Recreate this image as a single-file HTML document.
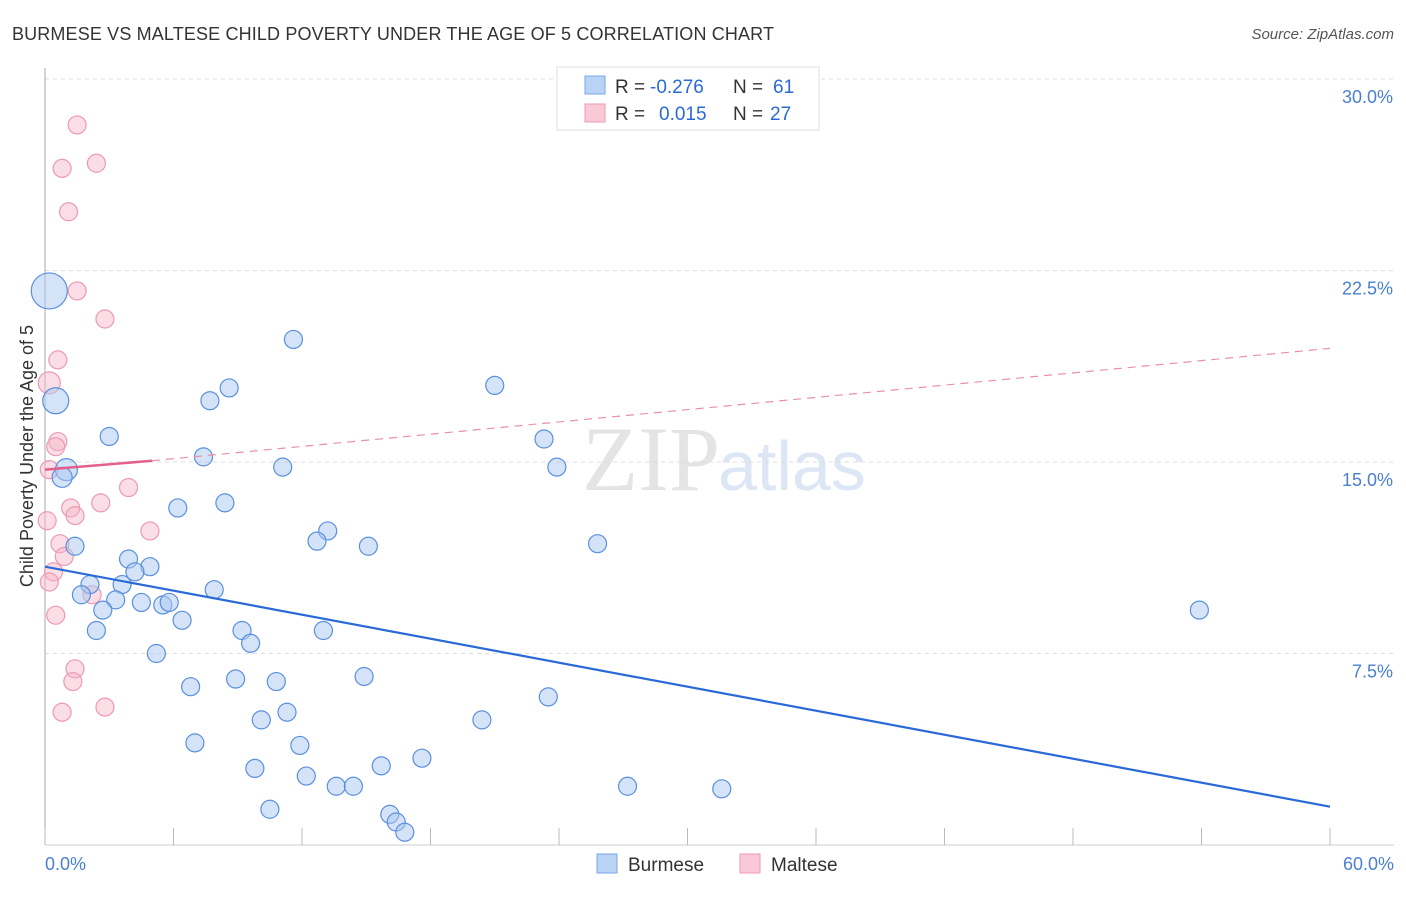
<!DOCTYPE html>
<html><head><meta charset="utf-8"><style>
body{margin:0;background:#fff;font-family:"Liberation Sans",sans-serif;}
</style></head><body>
<svg width="1406" height="892" xmlns="http://www.w3.org/2000/svg" style="font-family:'Liberation Sans',sans-serif">
<text x="12" y="40" font-size="18" fill="#333" textLength="762">BURMESE VS MALTESE CHILD POVERTY UNDER THE AGE OF 5 CORRELATION CHART</text>
<text x="1394" y="39" font-size="15" fill="#555" font-style="italic" text-anchor="end">Source: ZipAtlas.com</text>
<text x="720" y="490" font-size="92" fill="#e4e4e4" text-anchor="end" font-family="Liberation Serif">ZIP</text>
<text x="718" y="490" font-size="70" fill="#dce6f5">atlas</text>
<g id="grid"></g>
<line x1="45" y1="68" x2="45" y2="845" stroke="#aaa"/>
<line x1="45" y1="845" x2="1394" y2="845" stroke="#ccc"/>
<g id="xt"></g>
<text x="33" y="456" font-size="18" fill="#333" text-anchor="middle" transform="rotate(-90 33 456)">Child Poverty Under the Age of 5</text>
<text x="45" y="870" font-size="18" fill="#4a80d0">0.0%</text>
<text x="1394" y="870" font-size="18" fill="#4a80d0" text-anchor="end">60.0%</text>
<g id="pts"></g>
<g id="lines"></g>
<g font-size="19">
<rect x="557" y="67" width="262" height="63" fill="#fff" stroke="#ddd"/>
<rect x="585" y="76" width="20" height="18" fill="#b9d3f5" stroke="#7aa6e6"/>
<rect x="585" y="104" width="20" height="18" fill="#f9c9d7" stroke="#ee9ab3"/>
<text x="615" y="93" fill="#333">R =</text>
<text x="650" y="93" fill="#2a6ad6">-0.276</text>
<text x="733" y="93" fill="#333">N =</text>
<text x="773" y="93" fill="#2a6ad6">61</text>
<text x="615" y="120" fill="#333">R =</text>
<text x="659" y="120" fill="#2a6ad6">0.015</text>
<text x="733" y="120" fill="#333">N =</text>
<text x="770" y="120" fill="#2a6ad6">27</text>
</g>
<g>
<rect x="597" y="854" width="20" height="19" fill="#b9d3f5" stroke="#7aa6e6"/>
<text x="628" y="871" font-size="19" fill="#333">Burmese</text>
<rect x="740" y="854" width="20" height="19" fill="#f9c9d7" stroke="#ee9ab3"/>
<text x="771" y="871" font-size="19" fill="#333">Maltese</text>
</g>
</svg>
<script>
const yTicks=[7.5,15,22.5,30];
const yTickLabels=["7.5%","15.0%","22.5%","30.0%"];
const xTicks=[0,6,12,18,24,30,36,42,48,54,60];
const burmeseX=[0.2,0.5,1.0,0.8,3.0,11.6,21.0,8.6,7.7,7.4,11.1,23.3,23.9,6.2,8.4,13.2,12.7,15.1,25.8,1.4,3.9,4.9,4.2,3.6,2.1,1.7,3.3,2.7,4.5,5.5,5.8,7.9,6.4,2.4,9.2,13.0,9.6,5.2,53.9,6.8,8.9,10.8,14.9,23.5,11.3,10.1,20.4,7.0,11.9,17.6,9.8,15.7,12.2,13.6,14.4,27.2,31.6,10.5,16.1,16.4,16.8];
const burmeseY=[21.7,17.4,14.7,14.4,16.0,19.8,18.0,17.9,17.4,15.2,14.8,15.9,14.8,13.2,13.4,12.3,11.9,11.7,11.8,11.7,11.2,10.9,10.7,10.2,10.2,9.8,9.6,9.2,9.5,9.4,9.5,10.0,8.8,8.4,8.4,8.4,7.9,7.5,9.2,6.2,6.5,6.4,6.6,5.8,5.2,4.9,4.9,4.0,3.9,3.4,3.0,3.1,2.7,2.3,2.3,2.3,2.2,1.4,1.2,0.9,0.5];
const burmeseR=[18,13,11,10,9,9,9,9,9,9,9,9,9,9,9,9,9,9,9,9,9,9,9,9,9,9,9,9,9,9,9,9,9,9,9,9,9,9,9,9,9,9,9,9,9,9,9,9,9,9,9,9,9,9,9,9,9,9,9,9,9];
const malteseX=[1.5,2.4,0.8,1.1,1.5,2.8,0.6,0.2,0.6,0.5,0.2,3.9,1.2,2.6,1.4,0.1,4.9,0.7,0.9,0.4,0.2,2.2,0.5,1.4,1.3,2.8,0.8];
const malteseY=[28.2,26.7,26.5,24.8,21.7,20.6,19.0,18.1,15.8,15.6,14.7,14.0,13.2,13.4,12.9,12.7,12.3,11.8,11.3,10.7,10.3,9.8,9.0,6.9,6.4,5.4,5.2];
const malteseR=[9,9,9,9,9,9,9,11,9,9,9,9,9,9,9,9,9,9,9,9,9,9,9,9,9,9,9];
const burmeseTrend=[[0,10.9],[60,1.5]];
const malteseTrend=[[0,14.7],[5,15.05],[60,19.45]];
const NS="http://www.w3.org/2000/svg";
const X=v=>45+v*(1285/60), Y=v=>845-v*(191.5/7.5);
function mk(t,a,p){const e=document.createElementNS(NS,t);for(const k in a)e.setAttribute(k,a[k]);document.getElementById(p).appendChild(e);return e;}
yTicks.forEach((t,i)=>{
 const l=mk('line',{x1:45,x2:1394,y1:Y(t),y2:Y(t),stroke:'#ddd','stroke-dasharray':'4,4'},'grid');
 
 
 const tx=mk('text',{x:1393,y:Y(t)+24,'font-size':18,fill:'#4a80d0','text-anchor':'end'},'grid');
 tx.textContent=yTickLabels[i];
 
 
});
xTicks.forEach(t=>{
 const l=mk('line',{x1:X(t),x2:X(t),y1:828,y2:845,stroke:'#bbb'},'xt');
 
 
});
malteseX.forEach((v,i)=>{
 const c=mk('circle',{cx:X(v),cy:Y(malteseY[i]),r:malteseR[i],fill:'rgba(246,180,200,0.45)',stroke:'#eb9ab4','stroke-width':1.2},'pts');
 
 
});
burmeseX.forEach((v,i)=>{
 const c=mk('circle',{cx:X(v),cy:Y(burmeseY[i]),r:burmeseR[i],fill:'rgba(170,200,240,0.5)',stroke:'#5a90dc','stroke-width':1.2},'pts');
 
 
});
let b=mk('line',{x1:X(burmeseTrend[0][0]),y1:Y(burmeseTrend[0][1]),x2:X(burmeseTrend[1][0]),y2:Y(burmeseTrend[1][1]),stroke:'#2a6ad6','stroke-width':2.2},'lines');


let m1=mk('line',{x1:X(malteseTrend[0][0]),y1:Y(malteseTrend[0][1]),x2:X(malteseTrend[1][0]),y2:Y(malteseTrend[1][1]),stroke:'#e4608a','stroke-width':2.5},'lines');


let m2=mk('line',{x1:X(malteseTrend[1][0]),y1:Y(malteseTrend[1][1]),x2:X(malteseTrend[2][0]),y2:Y(malteseTrend[2][1]),stroke:'#e890aa','stroke-width':1.2,'stroke-dasharray':'8,6'},'lines');


</script>
</body></html>
